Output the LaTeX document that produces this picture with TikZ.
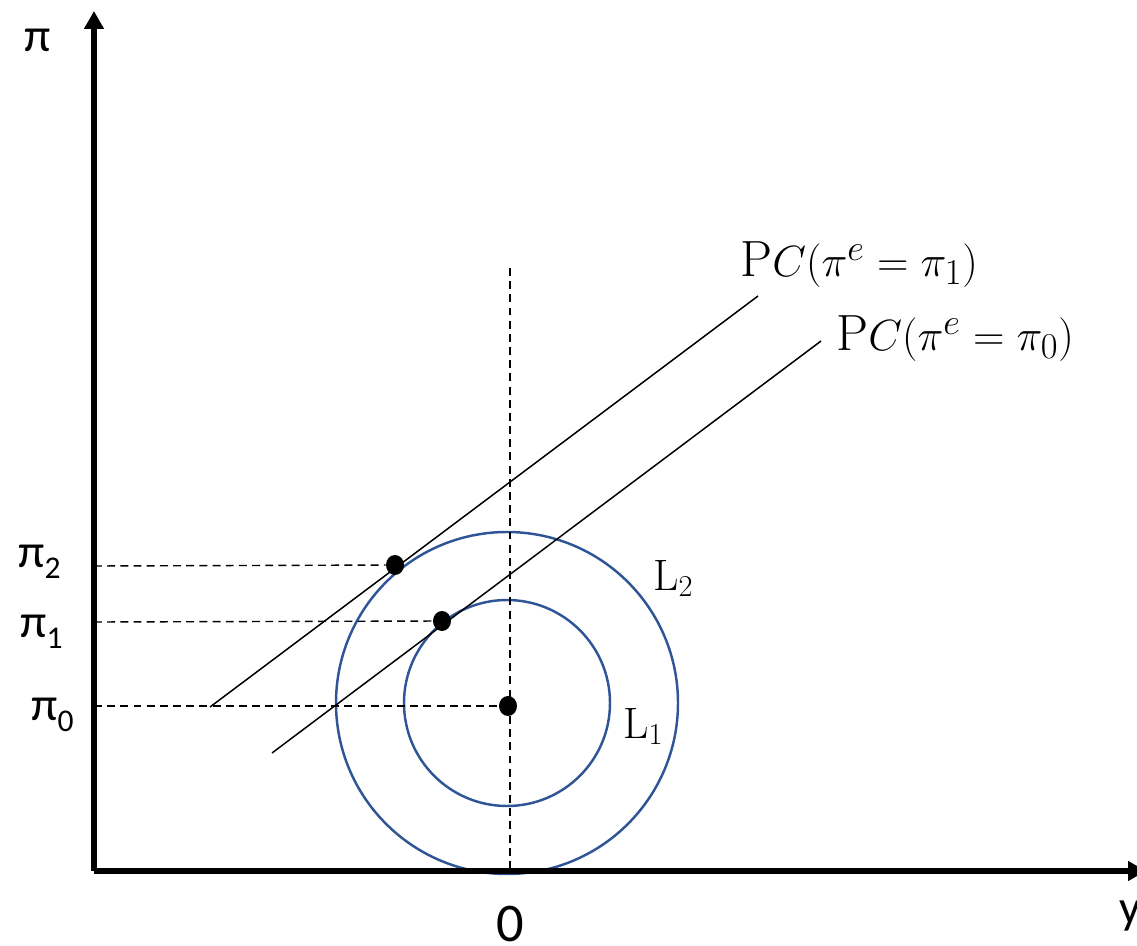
\documentclass[tikz,border=0pt]{standalone}
\usepackage{fontspec}
\usetikzlibrary{arrows.meta,shapes.geometric}
\newfontfamily\calfont{Carlito}
\definecolor{circblue}{HTML}{2F5597}
\newcommand{\subsc}[1]{\raisebox{-6.5pt}{\fontsize{18}{20}\selectfont #1}}
\begin{document}
\begin{tikzpicture}[x=0.02cm,y=-0.02cm,
  axis/.style={line width=3.4pt,-{Triangle[width=0.38cm,length=0.36cm]}},
  guide/.style={line width=0.8pt,dash pattern=on 4.5pt off 3pt},
  curve/.style={line width=0.85pt},
  loss/.style={circblue,line width=1.4pt},
  dot/.style={ellipse,fill=black,inner sep=0pt,minimum width=0.36cm,minimum height=0.40cm},
  sanslab/.style={font=\calfont\fontsize{27}{30}\selectfont,inner sep=0pt},
  mathlab/.style={font=\fontsize{29}{32}\selectfont,inner sep=0pt},
  llab/.style={font=\fontsize{25}{28}\selectfont,inner sep=0pt}]
\useasboundingbox (0,0) rectangle (1137,946);
% coordinates
\coordinate (O) at (94,871);
\coordinate (ytop) at (94,11);
\coordinate (xend) at (1146,871);
\coordinate (C) at (507,703);
\coordinate (vtop) at (510,268);
\coordinate (vbot) at (510,868);
\coordinate (h2) at (94,566);
\coordinate (h1) at (94,622);
\coordinate (h0) at (94,706);
\coordinate (a1) at (210,707);
\coordinate (b1) at (758,296);
\coordinate (a0) at (272,753);
\coordinate (b0) at (821,341);
% circles
\draw[loss] (C) circle[radius=171];
\draw[loss] (C) circle[radius=103];
% guides
\node[dot] (p2) at (395,565) {};
\node[dot] (p1) at (442,621) {};
\node[dot] (p0) at (508,706) {};
\draw[guide] (h2) -- (p2);
\draw[guide] (h1) -- (p1);
\draw[guide] (h0) -- (p0);
\draw[guide] (vtop) -- (vbot);
% PC lines
\draw[curve] (a1) -- (b1);
\draw[curve] (a0) -- (b0);
% axes
\draw[axis] (O) -- (ytop);
\draw[axis] (O) -- (xend);
% labels
\node[sanslab,anchor=base west] (pilab) at (24,52) {π};
\node[sanslab,anchor=base west] (ylab) at (1119,923) {y};
\node[sanslab,anchor=base] (zero) at (510,941) {\fontsize{31}{34}\selectfont 0};
\node[sanslab,anchor=base west] (pi2) at (18,567) {π\subsc{2}};
\node[sanslab,anchor=base west] (pi1) at (20,637) {π\subsc{1}};
\node[sanslab,anchor=base west] (pi0) at (31,720) {π\subsc{0}};
\node[mathlab,anchor=base west] (pc1) at (740,276) {$\mathrm{P}C(\pi^e=\pi_1)$};
\node[mathlab,anchor=base west] (pc0) at (836,350) {$\mathrm{P}C(\pi^e=\pi_0)$};
\node[llab,anchor=base west] (l2) at (653,590) {$\mathrm{L}_2$};
\node[llab,anchor=base west] (l1) at (623,738) {$\mathrm{L}_1$};
\end{tikzpicture}
\end{document}
